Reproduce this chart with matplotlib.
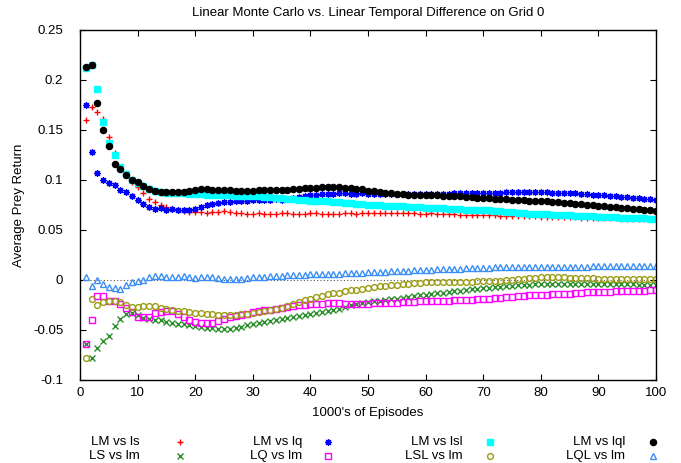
import matplotlib
matplotlib.use('Agg')
import matplotlib.pyplot as plt
from matplotlib.lines import Line2D
import numpy as np

plt.rcParams['font.family'] = ['Liberation Sans', 'DejaVu Sans']

episodes = np.arange(1, 101)

lm_vs_ls = [0.160, 0.1735, 0.168, 0.161, 0.143, 0.127, 0.113, 0.105, 0.098, 0.093,
            0.087, 0.0815, 0.078, 0.075, 0.073, 0.0715, 0.070, 0.069, 0.0685, 0.068,
            0.068, 0.0675, 0.068, 0.0685, 0.069, 0.068, 0.0675, 0.067, 0.0665, 0.0665,
            0.067, 0.0665, 0.066, 0.0665, 0.067, 0.067, 0.0665, 0.066, 0.0665, 0.067,
            0.067, 0.0665, 0.066, 0.066, 0.0665, 0.067, 0.067, 0.0665, 0.067, 0.067,
            0.0675, 0.067, 0.067, 0.0675, 0.0675, 0.067, 0.067, 0.067, 0.0665, 0.0665,
            0.067, 0.0665, 0.066, 0.066, 0.066, 0.0655, 0.0655, 0.0655, 0.065, 0.065,
            0.065, 0.065, 0.0645, 0.0645, 0.0645, 0.064, 0.064, 0.064, 0.064, 0.0635,
            0.0635, 0.0635, 0.063, 0.063, 0.063, 0.063, 0.0625, 0.0625, 0.0625, 0.062,
            0.062, 0.062, 0.062, 0.0615, 0.0615, 0.0615, 0.061, 0.061, 0.061, 0.061]

lm_vs_lq = [0.175, 0.1277, 0.107, 0.0996, 0.097, 0.0953, 0.090, 0.0877, 0.0838, 0.0805,
            0.076, 0.073, 0.071, 0.072, 0.0705, 0.071, 0.0705, 0.070, 0.0705, 0.071,
            0.073, 0.075, 0.0765, 0.077, 0.078, 0.0785, 0.079, 0.0795, 0.0795, 0.080,
            0.080, 0.0805, 0.0805, 0.081, 0.0805, 0.081, 0.082, 0.083, 0.084, 0.085,
            0.0855, 0.086, 0.0865, 0.0865, 0.087, 0.0868, 0.0865, 0.0865, 0.0868, 0.0865,
            0.0862, 0.086, 0.086, 0.0862, 0.086, 0.086, 0.0858, 0.086, 0.086, 0.086,
            0.0862, 0.0865, 0.0865, 0.0865, 0.0868, 0.087, 0.087, 0.087, 0.0872, 0.0872,
            0.0875, 0.0875, 0.0875, 0.0878, 0.0878, 0.088, 0.088, 0.088, 0.088, 0.0878,
            0.0878, 0.0875, 0.0875, 0.0872, 0.087, 0.0868, 0.0865, 0.086, 0.0855, 0.085,
            0.0848, 0.0845, 0.084, 0.0835, 0.083, 0.0825, 0.082, 0.0815, 0.081, 0.0805]

lm_vs_lsl = [0.2125, 0.215, 0.191, 0.158, 0.1366, 0.1247, 0.1135, 0.106, 0.100, 0.097,
             0.094, 0.091, 0.089, 0.088, 0.0875, 0.087, 0.087, 0.087, 0.0865, 0.086,
             0.086, 0.0855, 0.0855, 0.085, 0.085, 0.085, 0.0845, 0.0845, 0.0845, 0.084,
             0.084, 0.0835, 0.083, 0.0825, 0.082, 0.0815, 0.081, 0.0805, 0.080, 0.0795,
             0.079, 0.079, 0.079, 0.0785, 0.078, 0.0775, 0.077, 0.0765, 0.076, 0.0755,
             0.075, 0.0748, 0.0745, 0.074, 0.074, 0.0738, 0.0735, 0.073, 0.073, 0.0725,
             0.0722, 0.072, 0.0718, 0.0715, 0.071, 0.0708, 0.0705, 0.0703, 0.070, 0.070,
             0.0698, 0.0695, 0.069, 0.0685, 0.068, 0.0675, 0.067, 0.0665, 0.066, 0.066,
             0.0657, 0.0655, 0.0652, 0.065, 0.0648, 0.0645, 0.0642, 0.064, 0.0637, 0.0635,
             0.0632, 0.063, 0.0627, 0.0625, 0.0622, 0.062, 0.0618, 0.0616, 0.0615, 0.0614]

lm_vs_lql = [0.2135, 0.215, 0.177, 0.150, 0.134, 0.116, 0.111, 0.105, 0.100, 0.098,
             0.094, 0.091, 0.089, 0.0885, 0.088, 0.088, 0.088, 0.0885, 0.089, 0.0905,
             0.091, 0.091, 0.0905, 0.0905, 0.0905, 0.090, 0.0895, 0.089, 0.089, 0.0895,
             0.090, 0.0905, 0.0905, 0.090, 0.090, 0.0905, 0.091, 0.0915, 0.092, 0.092,
             0.0925, 0.093, 0.093, 0.0935, 0.093, 0.0925, 0.092, 0.0915, 0.091, 0.0895,
             0.089, 0.088, 0.0875, 0.087, 0.0865, 0.086, 0.0855, 0.085, 0.085, 0.085,
             0.085, 0.0848, 0.0845, 0.0845, 0.084, 0.0838, 0.0835, 0.083, 0.0825, 0.082,
             0.082, 0.0815, 0.081, 0.081, 0.0805, 0.080, 0.080, 0.0795, 0.079, 0.079,
             0.079, 0.0785, 0.078, 0.0775, 0.077, 0.0765, 0.076, 0.0755, 0.075, 0.0745,
             0.074, 0.0735, 0.073, 0.0725, 0.072, 0.0715, 0.071, 0.0705, 0.070, 0.0695]

ls_vs_lm = [-0.064, -0.0775, -0.068, -0.061, -0.0555, -0.046, -0.039, -0.0335, -0.033, -0.035,
            -0.038, -0.039, -0.0395, -0.040, -0.0415, -0.0425, -0.0435, -0.044, -0.045, -0.046,
            -0.047, -0.0475, -0.048, -0.0485, -0.0485, -0.0485, -0.048, -0.0465, -0.045, -0.044,
            -0.043, -0.042, -0.041, -0.040, -0.039, -0.038, -0.037, -0.0355, -0.0345, -0.0335,
            -0.0325, -0.0315, -0.031, -0.0295, -0.0285, -0.0265, -0.025, -0.024, -0.023, -0.022,
            -0.0213, -0.0205, -0.020, -0.019, -0.0185, -0.0178, -0.017, -0.016, -0.015, -0.0145,
            -0.0138, -0.013, -0.0125, -0.012, -0.0113, -0.0105, -0.010, -0.0093, -0.0085, -0.008,
            -0.0075, -0.007, -0.0065, -0.006, -0.0055, -0.005, -0.0048, -0.0045, -0.004, -0.004,
            -0.0037, -0.0037, -0.0037, -0.0038, -0.004, -0.004, -0.004, -0.004, -0.004, -0.004,
            -0.0042, -0.0042, -0.0043, -0.0043, -0.0044, -0.0044, -0.0045, -0.0045, -0.0045, -0.0045]

lq_vs_lm = [-0.064, -0.0395, -0.016, -0.016, -0.021, -0.021, -0.0235, -0.028, -0.032, -0.0365,
            -0.037, -0.037, -0.0325, -0.032, -0.031, -0.031, -0.0335, -0.037, -0.040, -0.042,
            -0.043, -0.043, -0.0425, -0.041, -0.039, -0.037, -0.0355, -0.0345, -0.0335, -0.032,
            -0.031, -0.030, -0.0295, -0.029, -0.028, -0.027, -0.026, -0.025, -0.0245, -0.024,
            -0.0235, -0.0235, -0.023, -0.0225, -0.023, -0.0235, -0.024, -0.0238, -0.0235, -0.0235,
            -0.023, -0.023, -0.023, -0.0228, -0.0225, -0.022, -0.022, -0.0215, -0.021, -0.021,
            -0.0208, -0.0205, -0.0205, -0.0205, -0.020, -0.020, -0.0198, -0.0195, -0.0192, -0.019,
            -0.0185, -0.018, -0.0175, -0.017, -0.0165, -0.016, -0.0155, -0.015, -0.015, -0.0148,
            -0.0145, -0.0142, -0.014, -0.0138, -0.0135, -0.013, -0.0125, -0.0122, -0.012, -0.012,
            -0.0118, -0.0115, -0.0112, -0.011, -0.011, -0.0108, -0.0105, -0.0105, -0.0102, -0.010]

lsl_vs_lm = [-0.0775, -0.019, -0.0245, -0.022, -0.021, -0.021, -0.0215, -0.0245, -0.0265, -0.0265,
             -0.026, -0.0255, -0.026, -0.0275, -0.029, -0.030, -0.031, -0.031, -0.032, -0.0325,
             -0.033, -0.0335, -0.034, -0.0345, -0.035, -0.035, -0.0348, -0.034, -0.0335, -0.033,
             -0.032, -0.031, -0.030, -0.029, -0.028, -0.026, -0.024, -0.022, -0.020, -0.0185,
             -0.017, -0.0155, -0.014, -0.013, -0.0125, -0.011, -0.0102, -0.0095, -0.0085, -0.0075,
             -0.007, -0.006, -0.0055, -0.005, -0.0045, -0.004, -0.0035, -0.003, -0.0025, -0.002,
             -0.002, -0.002, -0.0018, -0.0018, -0.0017, -0.0016, -0.0015, -0.0015, -0.0014, -0.0013,
             -0.0013, -0.001, -0.0005, 0.0, 0.0005, 0.001, 0.0015, 0.002, 0.0025, 0.003,
             0.003, 0.003, 0.003, 0.0028, 0.0025, 0.0025, 0.002, 0.002, 0.0018, 0.0015,
             0.0015, 0.0015, 0.0015, 0.0014, 0.0014, 0.0014, 0.0013, 0.0013, 0.0013, 0.0013]

lql_vs_lm = [0.003, -0.0055, 0.000, -0.004, -0.007, -0.008, -0.0085, -0.0045, -0.002, -0.001,
             0.0005, 0.003, 0.004, 0.0045, 0.0035, 0.003, 0.0035, 0.004, 0.003, 0.0025,
             0.003, 0.0035, 0.003, 0.002, 0.0015, 0.0015, 0.001, 0.0015, 0.002, 0.003,
             0.003, 0.0035, 0.004, 0.004, 0.0045, 0.005, 0.0055, 0.0055, 0.0055, 0.006,
             0.006, 0.006, 0.0063, 0.0065, 0.0065, 0.007, 0.007, 0.0075, 0.0075, 0.008,
             0.008, 0.0085, 0.0085, 0.009, 0.009, 0.0095, 0.0095, 0.0098, 0.010, 0.0102,
             0.0105, 0.011, 0.0108, 0.011, 0.0112, 0.0115, 0.0118, 0.012, 0.012, 0.0122,
             0.0125, 0.0128, 0.013, 0.013, 0.0132, 0.0135, 0.0132, 0.013, 0.013, 0.0128,
             0.013, 0.013, 0.013, 0.0128, 0.0128, 0.013, 0.0132, 0.0135, 0.014, 0.0142,
             0.0145, 0.0145, 0.0142, 0.014, 0.014, 0.014, 0.014, 0.0142, 0.014, 0.014]

labels = ['LM vs ls', 'LM vs lq', 'LM vs lsl', 'LM vs lql',
          'LS vs lm', 'LQ vs lm', 'LSL vs lm', 'LQL vs lm']
series = [lm_vs_ls, lm_vs_lq, lm_vs_lsl, lm_vs_lql,
          ls_vs_lm, lq_vs_lm, lsl_vs_lm, lql_vs_lm]

# gnuplot-like point styles, in plot order
styles = [
    dict(marker='+', color='#ff0000', ms=4.8, mew=1.0, ls='none'),
    dict(marker=(8, 2, 0), color='#0000ff', ms=4.8, mew=0.9, ls='none'),
    dict(marker='s', color='#00ffff', mfc='#00ffff', mec='#00ffff', ms=4.2, ls='none'),
    dict(marker='o', color='black', ms=4.4, ls='none'),
    dict(marker='x', color='#2a8f2a', ms=4.2, mew=1.0, ls='none'),
    dict(marker='s', mfc='none', mec='#ff00ff', ms=4.4, mew=1.0, ls='none'),
    dict(marker='o', mfc='none', mec='#9c9c14', ms=4.2, mew=1.0, ls='none'),
    dict(marker='^', mfc='none', mec='#3a8ef5', ms=4.4, mew=1.0, ls='none'),
]

fig = plt.figure(figsize=(6.81, 4.63), dpi=100)
ax = fig.add_axes([80/681, 1 - 380/463, 576/681, 350/463])

ax.axhline(0, color='#555555', lw=0.8, ls=(0, (1, 2)), zorder=1)

for vals, st in zip(series, styles):
    ax.plot(episodes, vals, zorder=2, **st)

ax.set_xlim(0, 100)
ax.set_ylim(-0.1, 0.25)
ax.set_xticks(np.arange(0, 101, 10))
ax.set_yticks([-0.1, -0.05, 0, 0.05, 0.1, 0.15, 0.2, 0.25])
ax.set_yticklabels(['-0.1', '-0.05', '0', '0.05', '0.1', '0.15', '0.2', '0.25'])
ax.tick_params(direction='in', length=4.5, width=0.8, top=True, right=True,
               labelsize=9.5)
ax.tick_params(axis='y', pad=12)
ax.tick_params(axis='x', pad=5)
for sp in ax.spines.values():
    sp.set_linewidth(1.0)

ax.set_title('Linear Monte Carlo vs. Linear Temporal Difference on Grid 0',
             fontsize=9.5, pad=10)
ax.set_xlabel("1000's of Episodes", fontsize=9.5, labelpad=6)
ax.set_ylabel('Average Prey Return', fontsize=9.5, labelpad=6)

# key below the plot, two rows of four, text right-aligned before the point
text_right = [140, 302, 463, 625]
point_x = [180, 328, 490, 653]
row_y = [442, 456]
for i, (lab, st) in enumerate(zip(labels, styles)):
    row, col = divmod(i, 4)
    yf = 1 - row_y[row] / 463
    fig.text(text_right[col] / 681, yf, lab, ha='right', va='center', fontsize=9.5)
    fig.add_artist(Line2D([point_x[col] / 681], [yf], transform=fig.transFigure, **st))

fig.savefig('out.png', dpi=100)
